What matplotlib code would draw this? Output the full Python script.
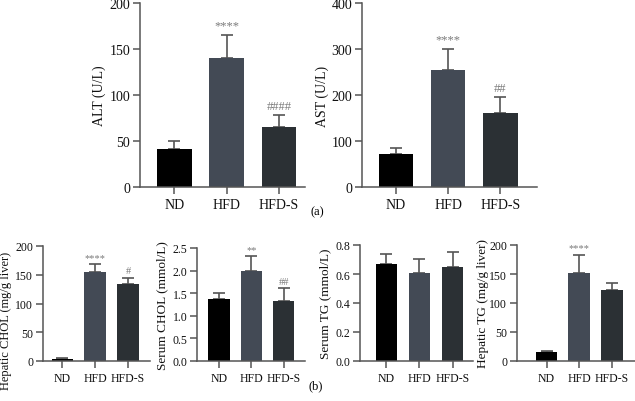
import matplotlib
matplotlib.use("Agg")
import matplotlib.pyplot as plt

plt.rcParams["font.family"] = ["Liberation Serif", "DejaVu Serif"]

# ===== data =====
groups = ["ND", "HFD", "HFD-S"]

alt_mean = [41, 140, 65]
alt_err = [9, 25, 13]
ast_mean = [72, 255, 160]
ast_err = [13, 45, 35]
hchol_mean = [3, 154, 134]
hchol_err = [1.5, 14, 11]
schol_mean = [1.37, 2.0, 1.33]
schol_err = [0.13, 0.32, 0.28]
stg_mean = [0.67, 0.61, 0.65]
stg_err = [0.065, 0.095, 0.10]
htg_mean = [15, 151, 123]
htg_err = [3, 32, 12]

alt_sig = ["", "****", "####"]
ast_sig = ["", "****", "##"]
hchol_sig = ["", "****", "#"]
schol_sig = ["", "**", "##"]
stg_sig = ["", "", ""]
htg_sig = ["", "****", ""]

bar_colors = ["#000000", "#434a55", "#2b3034"]
W, H = 635, 402

fig = plt.figure(figsize=(W / 100, H / 100), dpi=100)


def add_panel(x0, x1, ytop, ybot, xlim, mean, err, sig, ylim, yticks, ylabel,
              ylab_x, tick_fs, lab_fs, ylab_y=0.5, fmt="{:g}"):
    ax = fig.add_axes([x0 / W, 1 - ybot / H, (x1 - x0) / W, (ybot - ytop) / H])
    pos = range(len(groups))
    ax.bar(pos, mean, width=0.66, color=bar_colors, zorder=2)
    ax.errorbar(pos, mean, yerr=[[0] * 3, err], fmt="none", ecolor="#555555",
                elinewidth=1.2, capsize=4.5, capthick=1.2, zorder=1)
    span = ylim[1] - ylim[0]
    for i, s in enumerate(sig):
        if s:
            ax.text(i, mean[i] + err[i] + span * 0.02, s, ha="center", va="bottom",
                    fontsize=tick_fs - 1, color="#7a7a7a")
    ax.set_xlim(*xlim)
    ax.set_ylim(*ylim)
    ax.set_yticks(yticks)
    ax.set_yticklabels([fmt.format(t) for t in yticks])
    ax.set_xticks(list(pos))
    ax.set_xticklabels(groups)
    for side in ("top", "right"):
        ax.spines[side].set_visible(False)
    for side in ("left", "bottom"):
        ax.spines[side].set_color("#555555")
        ax.spines[side].set_linewidth(1.1)
    ax.tick_params(axis="both", colors="#555555", labelcolor="#111111",
                   labelsize=tick_fs, length=5, width=1.1)
    ax.tick_params(axis="y", pad=2)
    ax.tick_params(axis="x", pad=3)
    ax.set_ylabel(ylabel, fontsize=lab_fs, color="#111111")
    ax.yaxis.set_label_coords((ylab_x - x0) / (x1 - x0), ylab_y)
    ax.patch.set_alpha(0)
    return ax


# top row (a)
add_panel(140, 305, 4, 188, (-0.66, 2.5), alt_mean, alt_err, alt_sig,
          (0, 200), [0, 50, 100, 150, 200], "ALT (U/L)", 106, 10, 10)
add_panel(362, 537, 4, 188, (-0.65, 2.7), ast_mean, ast_err, ast_sig,
          (0, 400), [0, 100, 200, 300, 400], "AST (U/L)", 329, 10, 10)

# bottom row (b)
add_panel(43, 150, 247, 362, (-0.59, 2.67), hchol_mean, hchol_err, hchol_sig,
          (0, 200), [0, 50, 100, 150, 200], "Hepatic CHOL (mg/g liver)", 12,
          8.5, 9, ylab_y=0.36)
add_panel(197, 305, 249, 362, (-0.68, 2.66), schol_mean, schol_err, schol_sig,
          (0, 2.5), [0, 0.5, 1.0, 1.5, 2.0, 2.5], "Serum CHOL (mmol/L)", 168,
          8.5, 9.5, fmt="{:.1f}")
add_panel(360, 473, 246, 362, (-0.8, 2.62), stg_mean, stg_err, stg_sig,
          (0, 0.8), [0, 0.2, 0.4, 0.6, 0.8], "Serum TG (mmol/L)", 331,
          8.5, 9.5, fmt="{:.1f}")
add_panel(517, 635, 246, 362, (-0.9, 2.7), htg_mean, htg_err, htg_sig,
          (0, 200), [0, 50, 100, 150, 200], "Hepatic TG (mg/g liver)", 489,
          8.5, 9.5)

fig.text(317 / W, 1 - 212 / H, "(a)", ha="center", va="center", fontsize=9)
fig.text(316 / W, 1 - 386 / H, "(b)", ha="center", va="center", fontsize=9)

fig.savefig("out.png", dpi=100)
